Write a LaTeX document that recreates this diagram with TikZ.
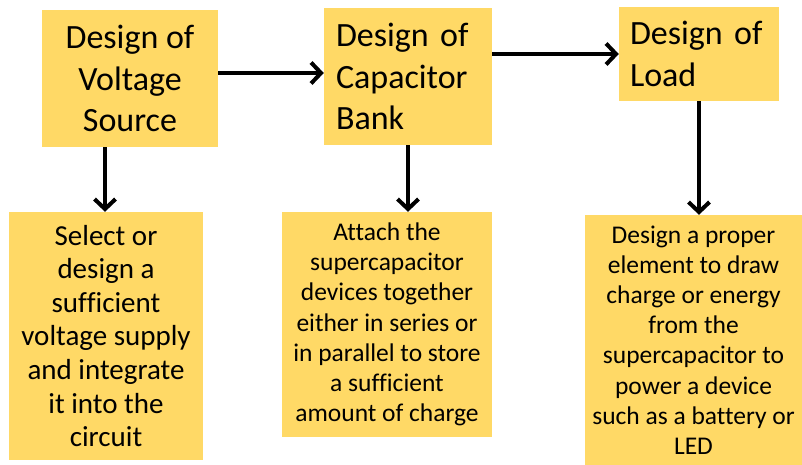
\documentclass[tikz,border=0pt]{standalone}
\usepackage{fontspec}
\setmainfont{Carlito}[Ligatures=NoCommon]
\usetikzlibrary{arrows.meta}
\definecolor{boxgold}{HTML}{FFD966}
\tikzset{
  stagebox/.style={fill=boxgold, inner sep=0pt, font=\fontsize{34}{41.5}\selectfont},
  taskbox/.style={fill=boxgold, inner sep=0pt, align=center, font=\fontsize{29}{33.6}\selectfont},
  smalltask/.style={taskbox, font=\fontsize{25.5}{30.2}\selectfont},
  arr/.style={line width=4pt, -{Straight Barb[length=10pt,width=21pt]}}
}
\begin{document}
\begin{tikzpicture}[x=1pt, y=-1pt]
\useasboundingbox (0,0) rectangle (802,465);
% obere Reihe
\node[stagebox, minimum width=176pt, minimum height=137pt, align=center] (volt) at (130,78.5) {Design of\\Voltage\\Source};
\node[stagebox, minimum width=168pt, minimum height=137pt, text width=144pt, align=left] (cap) at (408,76.5) {Design of\\Capacitor\\Bank};
\node[stagebox, minimum width=160pt, minimum height=94pt, text width=138pt, align=left] (load) at (699,54) {Design of\\Load};
% untere Reihe
\node[taskbox, minimum width=194pt, minimum height=248pt] (select) at (106,336) {Select or\\design a\\sufficient\\voltage supply\\and integrate\\it into the\\circuit};
\node[smalltask, minimum width=210pt, minimum height=225pt] (attach) at (387,324.5) {Attach the\\supercapacitor\\devices together\\either in series or\\in parallel to store\\a sufficient\\amount of charge};
\node[smalltask, minimum width=217pt, minimum height=250pt] (element) at (693.5,340) {Design a proper\\element to draw\\charge or energy\\from the\\supercapacitor to\\power a device\\such as a battery or\\LED};
% Pfeile
\coordinate (a1) at (0,73);
\coordinate (a2) at (0,54);
\coordinate (d1) at (105,0);
\draw[arr] (volt.east |- a1) -- (cap.west |- a1);
\draw[arr] (cap.east |- a2) -- (load.west |- a2);
\draw[arr] (volt.south -| d1) -- (select.north -| d1);
\draw[arr] (cap.south) -- (cap.south |- attach.north);
\draw[arr] (load.south) -- (load.south |- element.north);
\end{tikzpicture}
\end{document}
